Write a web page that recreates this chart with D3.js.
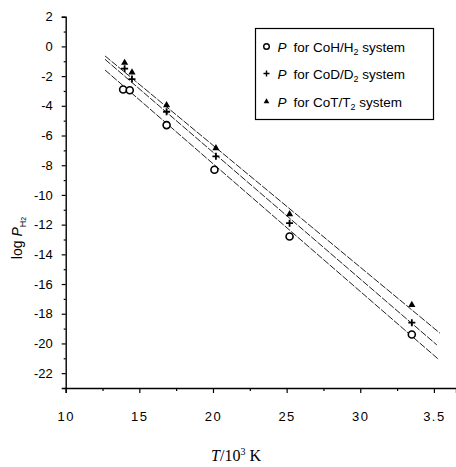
<!DOCTYPE html>
<html lang="en">
<head>
<meta charset="UTF-8">
<title>log P vs T</title>
<script src="https://d3js.org/d3.v7.min.js"></script>
<style>
  body { margin: 0; background: #fff; }
  svg text { fill: #000; }
</style>
</head>
<body>
<script>
// axis ticks
var xTicks = [10, 15, 20, 25, 30, 35];
var xTickLabels = ["10", "15", "20", "25", "30", "3.5"];
var xMinor = [12.5, 17.5, 22.5, 27.5, 32.5];
var yTicks = [2, 0, -2, -4, -6, -8, -10, -12, -14, -16, -18, -20, -22];
var yMinor = [1, -1, -3, -5, -7, -9, -11, -13, -15, -17, -19, -21, -23];

// CoH/H2 (circles)
var tempH = [13.9, 14.35, 16.85, 20.1, 25.2, 33.5];
var logPH = [-2.9, -2.95, -5.3, -8.3, -12.8, -19.4];
// CoD/D2 (plus)
var tempD = [14.0, 14.5, 16.85, 20.2, 25.2, 33.5];
var logPD = [-1.5, -2.2, -4.4, -7.4, -11.9, -18.6];
// CoT/T2 (triangles)
var tempT = [14.0, 14.5, 16.85, 20.2, 25.2, 33.5];
var logPT = [-1.1, -1.75, -3.95, -6.85, -11.3, -17.4];

// fitted lines, two end points each
var fitH = [[12.67, -1.59], [35.35, -21.1]];
var fitD = [[12.67, -0.87], [35.2, -20.1]];
var fitT = [[12.67, -0.64], [35.4, -19.3]];

var W = 456, H = 467;
var svg = d3.select("body").append("svg")
    .attr("width", W)
    .attr("height", H);

var x = d3.scaleLinear().domain([10, 36.5]).range([65.7, 456]);
var y = d3.scaleLinear().domain([-23, 2]).range([388, 16.7]);

// fit lines
var line = d3.line()
    .x(function(d){ return x(d[0]); })
    .y(function(d){ return y(d[1]); });

[fitH, fitD, fitT].forEach(function(f){
    svg.append("path")
        .attr("d", line(f))
        .attr("fill", "none")
        .attr("stroke", "#222")
        .attr("stroke-width", 1)
        .attr("stroke-dasharray", "7,1.5");
});

// axes
var fontTick = "Arial, 'Liberation Sans', sans-serif";

var xAxis = svg.append("g")
    .attr("transform", "translate(0," + y(-23) + ")")
    .call(d3.axisBottom(x).tickValues(xTicks).tickSize(5).tickPadding(19)
        .tickFormat(function(d, i){ return xTickLabels[i]; }));
svg.append("g")
    .attr("transform", "translate(0," + y(-23) + ")")
    .call(d3.axisBottom(x).tickValues(xMinor).tickSize(3).tickFormat(""))
    .select(".domain").remove();

var yAxis = svg.append("g")
    .attr("transform", "translate(" + x(10) + ",0)")
    .call(d3.axisLeft(y).tickValues(yTicks).tickSize(4).tickPadding(9)
        .tickFormat(function(d){ return d; }));
svg.append("g")
    .attr("transform", "translate(" + x(10) + ",0)")
    .call(d3.axisLeft(y).tickValues(yMinor).tickSize(2).tickFormat(""))
    .select(".domain").remove();

svg.selectAll(".domain").attr("stroke", "#000").attr("stroke-width", 1.4);
svg.selectAll(".tick line").attr("stroke", "#000").attr("stroke-width", 1.2);
svg.selectAll(".tick text")
    .style("font-family", fontTick)
    .style("font-size", "13px")
    .attr("fill", "#000");
// x-axis text a bit spaced out like the scan
xAxis.selectAll(".tick text").style("letter-spacing", "1.5px");

// axis titles
var xTitle = svg.append("text")
    .attr("x", 236)
    .attr("y", 461)
    .attr("text-anchor", "middle")
    .style("font-family", "'Liberation Serif', 'DejaVu Serif', serif")
    .style("font-size", "16px");
xTitle.append("tspan").style("font-style", "italic").text("T");
xTitle.append("tspan").text("/10");
xTitle.append("tspan").attr("dy", -6).style("font-size", "10px").text("3");
xTitle.append("tspan").attr("dy", 6).text(" K");

var yTitle = svg.append("text")
    .attr("transform", "translate(22,238) rotate(-90)")
    .attr("text-anchor", "middle")
    .style("font-family", fontTick)
    .style("font-size", "14px");
yTitle.append("tspan").text("log ");
yTitle.append("tspan").style("font-style", "italic").text("P");
yTitle.append("tspan").attr("dy", 4).style("font-size", "9px").text("H");
yTitle.append("tspan").style("font-size", "7px").text("2");

// markers
var circleData = tempH.map(function(t, i){ return [t, logPH[i]]; });
var plusData = tempD.map(function(t, i){ return [t, logPD[i]]; });
var triData = tempT.map(function(t, i){ return [t, logPT[i]]; });

svg.selectAll("circle.h")
    .data(circleData)
    .enter()
    .append("circle")
    .attr("class", "h")
    .attr("cx", function(d){ return x(d[0]); })
    .attr("cy", function(d){ return y(d[1]); })
    .attr("r", 3.5)
    .attr("fill", "#fff")
    .attr("stroke", "#000")
    .attr("stroke-width", 1.6);

svg.selectAll("path.d")
    .data(plusData)
    .enter()
    .append("path")
    .attr("class", "d")
    .attr("d", "M-3.5,0H3.5M0,-3.5V3.5")
    .attr("transform", function(d){ return "translate(" + x(d[0]) + "," + y(d[1]) + ")"; })
    .attr("stroke", "#000")
    .attr("stroke-width", 1.8);

var triSym = d3.symbol().type(d3.symbolTriangle).size(22);
svg.selectAll("path.t")
    .data(triData)
    .enter()
    .append("path")
    .attr("class", "t")
    .attr("d", triSym)
    .attr("transform", function(d){ return "translate(" + x(d[0]) + "," + y(d[1]) + ")"; })
    .attr("fill", "#000");

// legend
var leg = svg.append("g").attr("transform", "translate(255.5,28.5)");
leg.append("rect")
    .attr("width", 178)
    .attr("height", 91)
    .attr("fill", "#fff")
    .attr("stroke", "#000")
    .attr("stroke-width", 1.2);

var legItems = [
    { kind: "h", pre: "for CoH/H", sub: "2", post: " system" },
    { kind: "d", pre: "for CoD/D", sub: "2", post: " system" },
    { kind: "t", pre: "for CoT/T", sub: "2", post: " system" }
];
var rowY = [18, 45, 73];

legItems.forEach(function(it, i){
    var cy = rowY[i];
    if (it.kind === "h") {
        leg.append("circle").attr("cx", 11).attr("cy", cy).attr("r", 2.8)
            .attr("fill", "none").attr("stroke", "#000").attr("stroke-width", 1.4);
    } else if (it.kind === "d") {
        leg.append("path").attr("d", "M-3,0H3M0,-3V3")
            .attr("transform", "translate(11," + cy + ")")
            .attr("stroke", "#000").attr("stroke-width", 1.4);
    } else {
        leg.append("path").attr("d", d3.symbol().type(d3.symbolTriangle).size(14))
            .attr("transform", "translate(11," + cy + ")")
            .attr("fill", "#000");
    }
    var t = leg.append("text")
        .attr("x", 22)
        .attr("y", cy + 5)
        .style("font-family", fontTick)
        .style("font-size", "13.5px");
    t.append("tspan").style("font-style", "italic").text("P");
    t.append("tspan").attr("dx", 7).text(it.pre);
    t.append("tspan").attr("dy", 3).style("font-size", "9px").text(it.sub);
    t.append("tspan").attr("dy", -3).text(it.post);
});
</script>
</body>
</html>
